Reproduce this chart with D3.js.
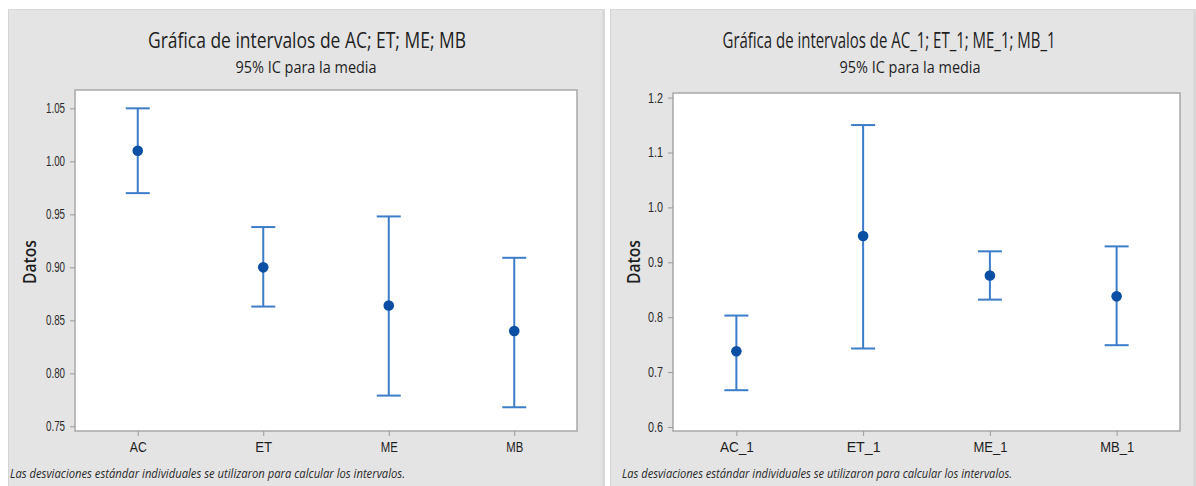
<!DOCTYPE html>
<html><head><meta charset="utf-8">
<script src="https://cdn.jsdelivr.net/npm/d3@7"></script>
<style>
body{margin:0;background:#fff;}
svg{display:block;font-family:"Open Sans","Noto Sans",sans-serif;}
</style></head>
<body><svg id="c" width="1196" height="486"></svg>
<script>
// ---- Data ----
const catsL = ["AC", "ET", "ME", "MB"];
const meanL = [1.010, 0.900, 0.864, 0.840];
const lowL  = [0.970, 0.863, 0.779, 0.768];
const highL = [1.050, 0.938, 0.948, 0.909];
const ticksL = [0.75, 0.80, 0.85, 0.90, 0.95, 1.00, 1.05];

const catsR = ["AC_1", "ET_1", "ME_1", "MB_1"];
const meanR = [0.738, 0.948, 0.876, 0.838];
const lowR  = [0.667, 0.743, 0.832, 0.749];
const highR = [0.803, 1.150, 0.920, 0.929];
const ticksR = [0.6, 0.7, 0.8, 0.9, 1.0, 1.1, 1.2];

const titleL = "Gráfica de intervalos de AC; ET; ME; MB";
const titleR = "Gráfica de intervalos de AC_1; ET_1; ME_1; MB_1";
const subtitle = "95% IC para la media";
const yLabel = "Datos";
const footnote = "Las desviaciones estándar individuales se utilizaron para calcular los intervalos.";

const svg = d3.select("#c");

function panel(cfg){
  const g = svg.append("g");
  g.append("rect").attr("x",cfg.px).attr("y",9).attr("width",cfg.pw).attr("height",477)
    .attr("fill","#e4e4e4");
  g.append("line").attr("x1",cfg.px+0.5).attr("x2",cfg.px+0.5).attr("y1",9).attr("y2",486)
    .attr("stroke","#d4d4d4");
  g.append("line").attr("x1",cfg.px+cfg.pw-1.5).attr("x2",cfg.px+cfg.pw-1.5).attr("y1",9).attr("y2",486)
    .attr("stroke","#d4d4d4").attr("stroke-width",2);
  g.append("line").attr("x1",cfg.px).attr("x2",cfg.px+cfg.pw).attr("y1",9.5).attr("y2",9.5)
    .attr("stroke","#d8d8d8");

  const {x0,x1,y0,y1} = cfg;
  const x = d3.scalePoint().domain(cfg.cats).range([x0,x1]).padding(0.5);
  const y = d3.scaleLinear().domain(cfg.dom).range([y1,y0]);

  g.append("rect").attr("x",x0).attr("y",y0).attr("width",x1-x0).attr("height",y1-y0)
    .attr("fill","#fff").attr("stroke","#a8a8a8").attr("stroke-width",1.5);

  // titles
  g.append("text").attr("x",cfg.tx).attr("y",48).attr("text-anchor","middle")
    .attr("font-size",21).attr("fill","#1e1e1e").attr("textLength",cfg.tw).attr("lengthAdjust","spacingAndGlyphs")
    .text(cfg.title);
  g.append("text").attr("x",cfg.sx).attr("y",73).attr("text-anchor","middle")
    .attr("font-size",16.5).attr("fill","#1e1e1e").attr("textLength",141).attr("lengthAdjust","spacingAndGlyphs")
    .text(subtitle);

  // y axis
  const ya = g.append("g").attr("transform",`translate(${x0},0)`)
    .call(d3.axisLeft(y).tickValues(cfg.ticks).tickFormat(d3.format(cfg.fmt)).tickSize(5).tickPadding(5));
  ya.select(".domain").remove();
  ya.selectAll("line").attr("stroke","#9a9a9a");
  ya.selectAll("text").attr("font-size",14).attr("fill","#2a2a2a")
    .attr("textLength",cfg.fmt===".2f"?19:15).attr("lengthAdjust","spacingAndGlyphs");

  // x axis
  const xa = g.append("g").attr("transform",`translate(0,${y1})`)
    .call(d3.axisBottom(x).tickSize(5).tickPadding(5));
  xa.select(".domain").remove();
  xa.selectAll("line").attr("stroke","#9a9a9a");
  xa.selectAll("text").attr("font-size",15).attr("fill","#1e1e1e")
    .each(function(d){ d3.select(this).attr("textLength", d.length>2?34:17).attr("lengthAdjust","spacingAndGlyphs"); });

  // y label
  g.append("text").attr("transform",`translate(${cfg.lx},262) rotate(-90)`)
    .attr("text-anchor","middle").attr("font-size",18).attr("font-weight",600).attr("fill","#1e1e1e")
    .attr("textLength",44).attr("lengthAdjust","spacingAndGlyphs")
    .text(yLabel);

  // intervals
  const data = cfg.cats.map((c,i)=>({c, m:cfg.mean[i], lo:cfg.low[i], hi:cfg.high[i]}));
  const col = "#3b7dc8";
  const ib = g.append("g");
  ib.selectAll(".v").data(data).join("line")
    .attr("x1",d=>x(d.c)).attr("x2",d=>x(d.c)).attr("y1",d=>y(d.lo)).attr("y2",d=>y(d.hi))
    .attr("stroke",col).attr("stroke-width",2);
  ib.selectAll(".t").data(data).join("line")
    .attr("x1",d=>x(d.c)-12).attr("x2",d=>x(d.c)+12).attr("y1",d=>y(d.hi)).attr("y2",d=>y(d.hi))
    .attr("stroke",col).attr("stroke-width",2);
  ib.selectAll(".b").data(data).join("line")
    .attr("x1",d=>x(d.c)-12).attr("x2",d=>x(d.c)+12).attr("y1",d=>y(d.lo)).attr("y2",d=>y(d.lo))
    .attr("stroke",col).attr("stroke-width",2);
  ib.selectAll("circle").data(data).join("circle")
    .attr("cx",d=>x(d.c)).attr("cy",d=>y(d.m)).attr("r",5.3).attr("fill","#0a4fa3");

  // footnote
  g.append("text").attr("x",cfg.fx).attr("y",478).attr("font-size",12).attr("font-style","italic")
    .attr("fill","#2a2a2a").attr("textLength",cfg.fw).attr("lengthAdjust","spacingAndGlyphs")
    .text(footnote);
}

panel({px:8, pw:597, x0:75, x1:577, y0:90, y1:431, dom:[0.7456,1.0673],
  cats:catsL, mean:meanL, low:lowL, high:highL, ticks:ticksL, fmt:".2f",
  title:titleL, tx:307, tw:318, sx:306, lx:36, fx:10, fw:395});
panel({px:610, pw:586, x0:673, x1:1180, y0:93, y1:431, dom:[0.5927,1.2084],
  cats:catsR, mean:meanR, low:lowR, high:highR, ticks:ticksR, fmt:".1f",
  title:titleR, tx:889, tw:333, sx:910, lx:640, fx:622, fw:390});
</script></body></html>
